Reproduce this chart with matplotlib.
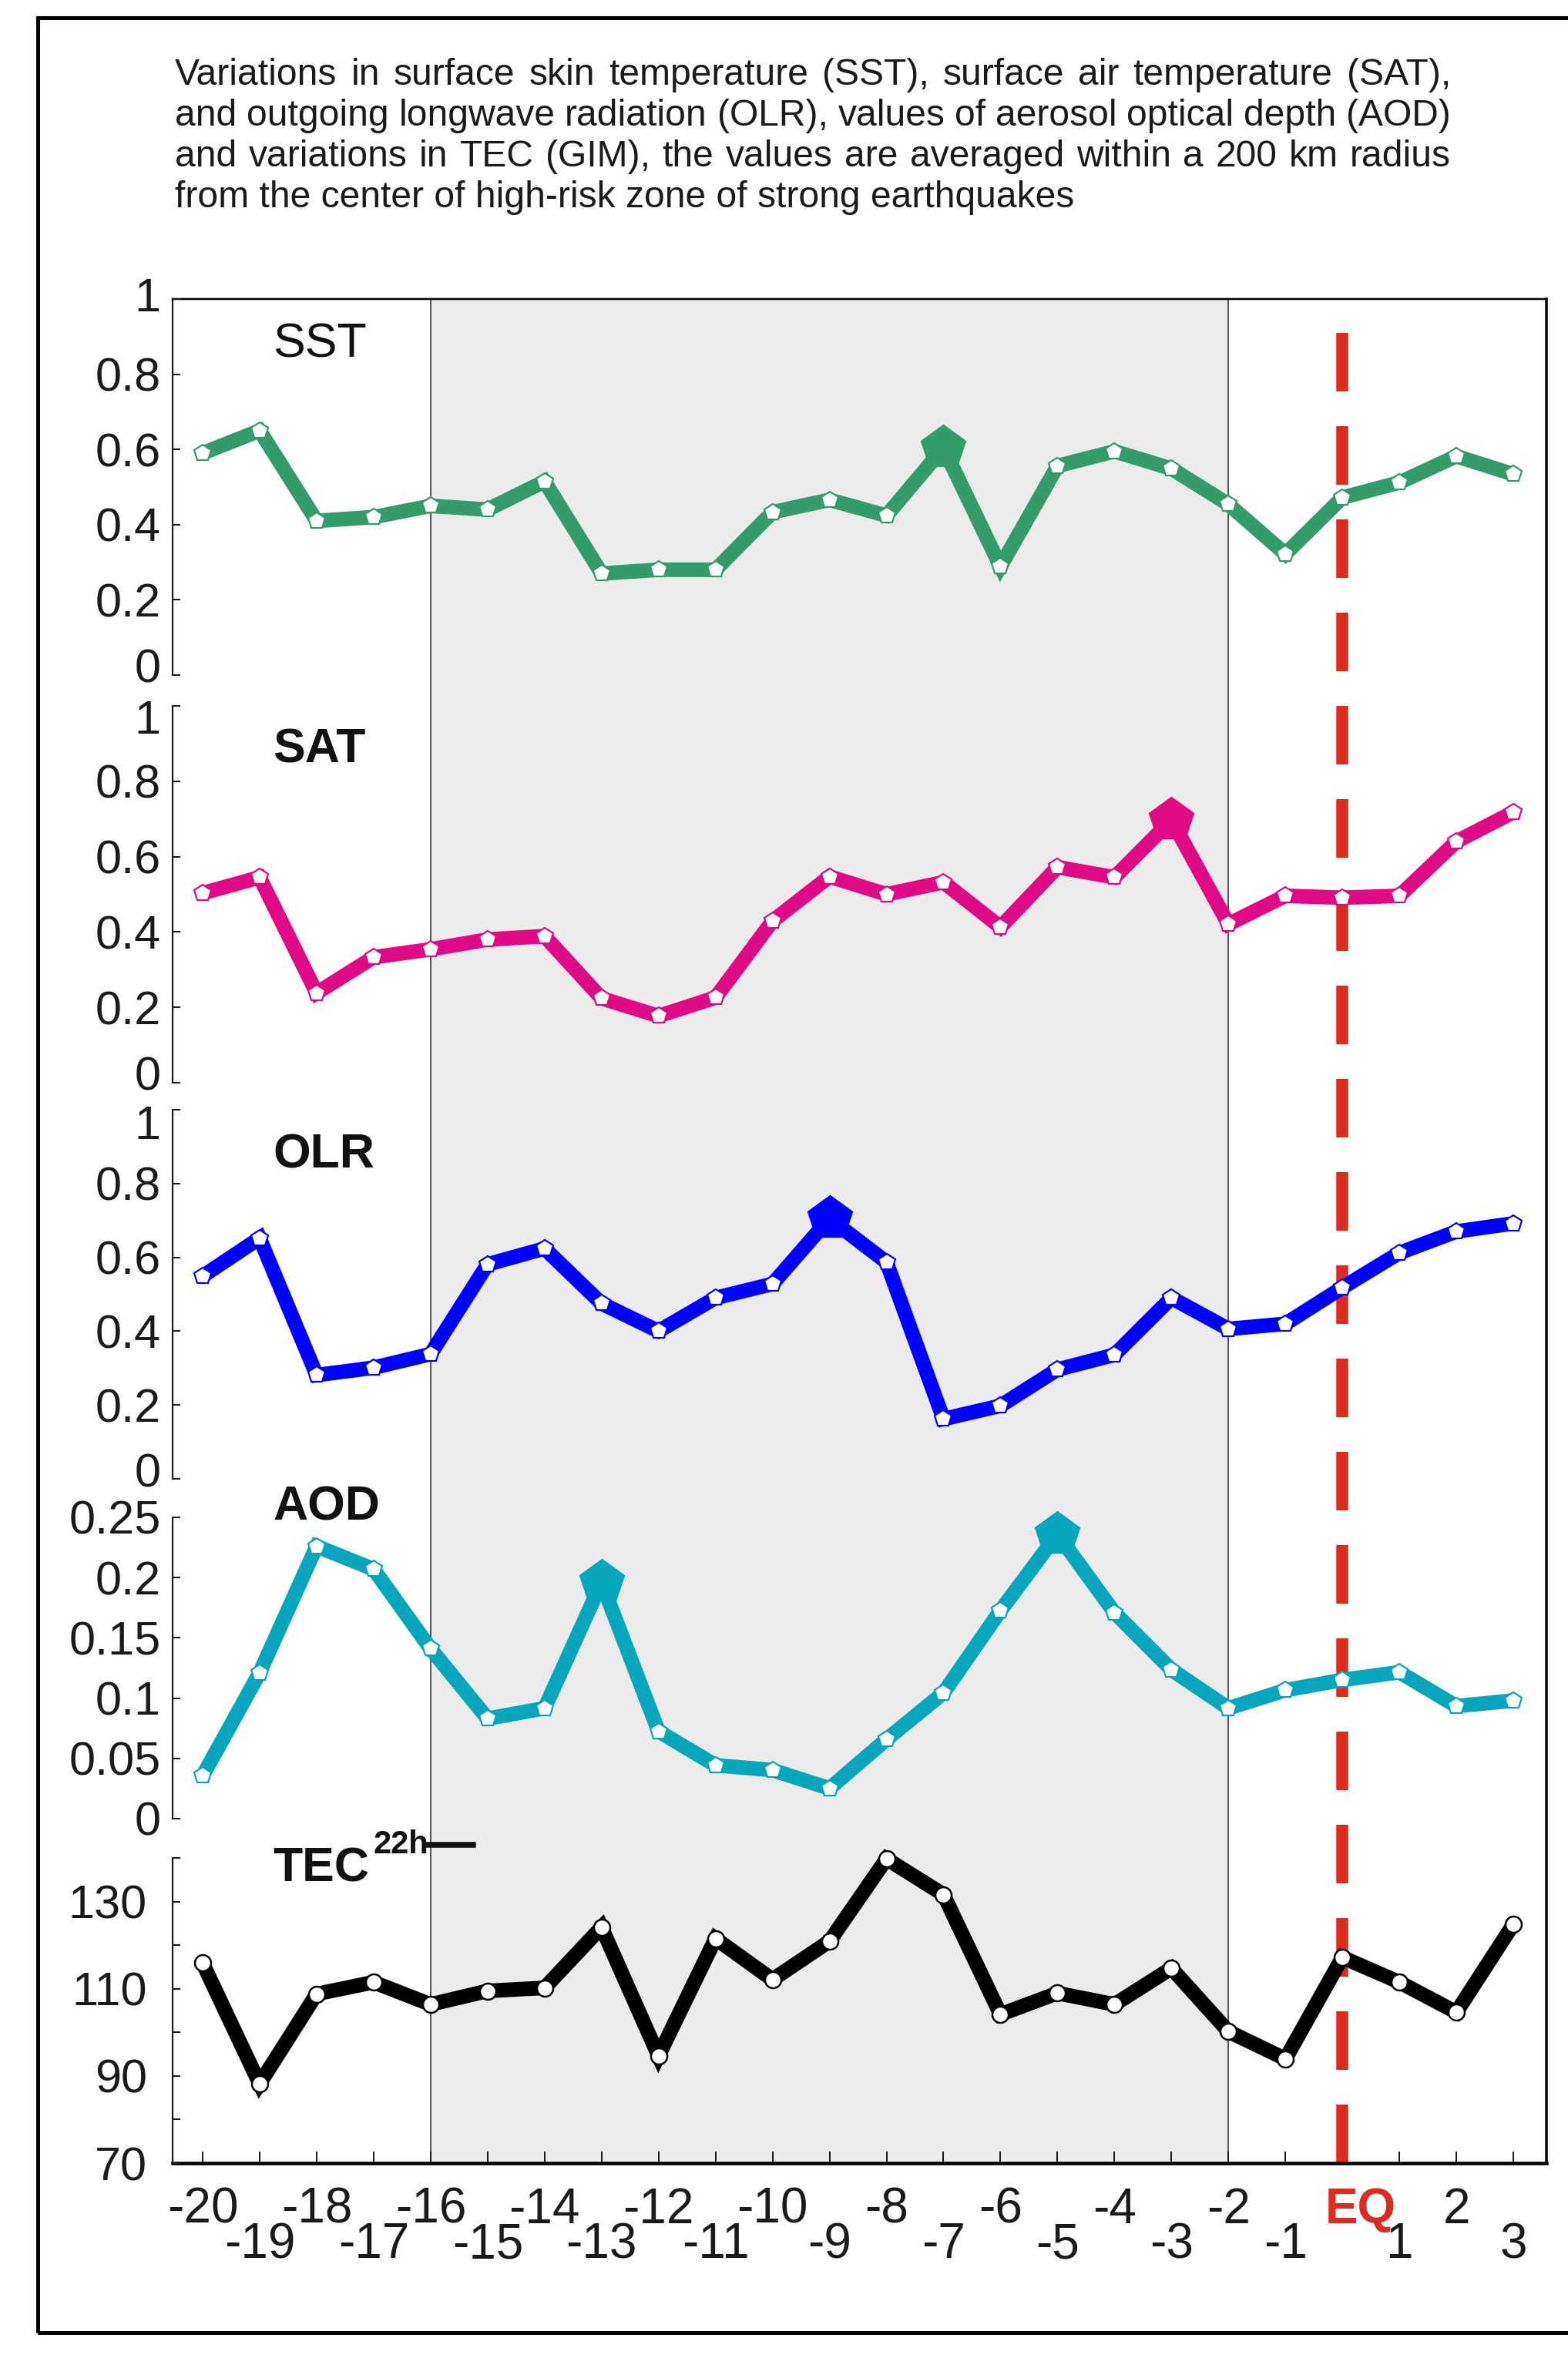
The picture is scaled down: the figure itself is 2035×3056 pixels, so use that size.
import matplotlib
matplotlib.use('Agg')
import matplotlib.pyplot as plt
from matplotlib.patches import Rectangle
from matplotlib.lines import Line2D
from matplotlib.transforms import ScaledTranslation

plt.rcParams['font.family'] = ['Liberation Sans', 'DejaVu Sans']

# ---------------- data ----------------
days = list(range(-20, 4))
x_labels = ['-20', '-19', '-18', '-17', '-16', '-15', '-14', '-13', '-12', '-11',
            '-10', '-9', '-8', '-7', '-6', '-5', '-4', '-3', '-2', '-1',
            '', '1', '2', '3']
eq_label = 'EQ'

sst = [0.59, 0.65, 0.41, 0.42, 0.45, 0.44, 0.515, 0.27, 0.28, 0.28, 0.433, 0.466,
       0.424, 0.604, 0.289, 0.556, 0.595, 0.549, 0.454, 0.322, 0.472, 0.512, 0.582, 0.534]
sat = [0.503, 0.545, 0.238, 0.333, 0.354, 0.380, 0.389, 0.224, 0.177, 0.226, 0.429, 0.547,
       0.500, 0.532, 0.413, 0.572, 0.545, 0.697, 0.421, 0.496, 0.491, 0.496, 0.640, 0.718]
olr = [0.549, 0.652, 0.281, 0.301, 0.338, 0.581, 0.624, 0.475, 0.400, 0.490, 0.528, 0.705,
       0.587, 0.162, 0.198, 0.296, 0.336, 0.490, 0.406, 0.420, 0.518, 0.612, 0.670, 0.692]
aod = [0.0356, 0.121, 0.226, 0.207, 0.141, 0.083, 0.0916, 0.196, 0.0725, 0.0443, 0.0403, 0.0251,
       0.0657, 0.1044, 0.1726, 0.236, 0.171, 0.1236, 0.0916, 0.1066, 0.1151, 0.1215, 0.0934, 0.098]
tec = [115.9, 88.2, 108.8, 111.5, 106.4, 109.5, 110.2, 124.1, 94.6, 121.5, 112.1, 120.9,
       139.8, 131.6, 104.1, 109.0, 106.4, 114.7, 100.2, 93.9, 117.2, 111.5, 104.6, 124.8]

sst_peaks = [-7]
sat_peaks = [-3]
olr_peaks = [-9]
aod_peaks = [-13, -5]
tec_peaks = []

unit_ticks = [0, 0.2, 0.4, 0.6, 0.8, 1.0]
unit_labels = ['0', '0.2', '0.4', '0.6', '0.8', '1']
aod_ticks = [0, 0.05, 0.1, 0.15, 0.2, 0.25]
aod_labels = ['0', '0.05', '0.1', '0.15', '0.2', '0.25']
tec_ticks = [70, 90, 110, 130]
tec_labels = ['70', '90', '110', '130']
tec_minor = [80, 100, 120, 140]

shade_from, shade_to = -16, -2
eq_day = 0

title_lines = [
    "Variations in surface skin temperature (SST), surface air temperature (SAT),",
    "and outgoing longwave radiation (OLR), values of aerosol optical depth (AOD)",
    "and variations in TEC (GIM), the values are averaged within a 200 km radius",
    "from the center of high-risk zone of strong earthquakes",
]

# ---------------- layout helpers ----------------
W, H, DPI = 2035, 3056, 100
PX = 72.0 / DPI
fig = plt.figure(figsize=(W / DPI, H / DPI), dpi=DPI)
fig.patch.set_facecolor('white')


def fx(p):
    return p / W


def fy(p):
    return 1 - p / H


X_LEFT, X_RIGHT = 224, 2007
XLIM = (-20.527, 3.58)


def make_axes(top, bottom, z):
    ax = fig.add_axes([fx(X_LEFT), fy(bottom), fx(X_RIGHT) - fx(X_LEFT), (bottom - top) / H])
    ax.set_zorder(z)
    ax.set_xlim(XLIM)
    return ax


# ---------------- background axes ----------------
bg = make_axes(388, 2807, 0)
bg.set_ylim(0, 1)
bg.axvspan(shade_from, shade_to, color='#ececec', lw=0, zorder=0)
for xv in (shade_from, shade_to):
    bg.axvline(xv, color='#222222', lw=1.5 * PX, zorder=1)
lw_eq = 15.5
bg.plot([eq_day, eq_day], [0, 1], color='#dc2b1f', lw=lw_eq * PX,
        dashes=(76 / lw_eq, 45 / lw_eq), dash_capstyle='butt', zorder=2)
bg.spines['left'].set_visible(False)
bg.spines['top'].set_linewidth(2.5 * PX)
bg.spines['right'].set_linewidth(3.5 * PX)
bg.spines['bottom'].set_linewidth(4.5 * PX)
bg.set_yticks([])
bg.set_xticks(days)
bg.set_xticklabels(x_labels)
bg.tick_params(axis='x', direction='in', length=15 * PX, width=2 * PX,
               labelsize=46, colors='#1a1a1a')
for d, t in zip(days, bg.xaxis.get_major_ticks()):
    t.set_pad(22 if d % 2 == 0 else 55)
bg.annotate(eq_label, xy=(eq_day, 0), xycoords=('data', 'axes fraction'),
            xytext=(17, -22), textcoords='offset points', ha='center', va='top',
            fontsize=46, fontweight='bold', color='#dc2b1f')

# ---------------- panels ----------------
panels = [
    dict(top=388, bottom=876, ylim=(0, 1), ticks=unit_ticks, labels=unit_labels,
         data=sst, color='#349b6a', peaks=sst_peaks, name='SST', bold=False,
         base=464, pad=11, marker='p', shift={'0': 13, '1': 6}),
    dict(top=916, bottom=1405, ylim=(0, 1), ticks=unit_ticks, labels=unit_labels,
         data=sat, color='#e10a85', peaks=sat_peaks, name='SAT', bold=True,
         base=989, pad=11, marker='p', shift={'0': 13, '1': -14}),
    dict(top=1440, bottom=1919, ylim=(0, 1), ticks=unit_ticks, labels=unit_labels,
         data=olr, color='#0000ff', peaks=olr_peaks, name='OLR', bold=True,
         base=1515, pad=11, marker='p', shift={'0': 12, '1': -16}),
    dict(top=1969, bottom=2360, ylim=(0, 0.25), ticks=aod_ticks, labels=aod_labels,
         data=aod, color='#06a6bd', peaks=aod_peaks, name='AOD', bold=True,
         base=1973, pad=11, marker='p', shift={}),
    dict(top=2411, bottom=2807, ylim=(70, 140), ticks=tec_ticks, labels=tec_labels,
         data=tec, color='#000000', peaks=tec_peaks, name='TEC', bold=True,
         base=2442, pad=24, marker='o', shift={}),
]

panel_axes = []
for i, p in enumerate(panels):
    ax = make_axes(p['top'], p['bottom'], 5 + i)
    ax.patch.set_visible(False)
    ax.set_ylim(*p['ylim'])
    for s in ('top', 'right', 'bottom'):
        ax.spines[s].set_visible(False)
    ax.spines['left'].set_linewidth(2.2 * PX)
    ax.spines['left'].set_color('#1a1a1a')
    ax.tick_params(axis='x', bottom=False, labelbottom=False)
    ax.set_yticks(p['ticks'])
    ax.set_yticklabels(p['labels'])
    ax.tick_params(axis='y', which='both', direction='in', length=10 * PX, width=2 * PX,
                   labelsize=44, pad=p['pad'], colors='#1a1a1a')
    if p['name'] == 'TEC':
        ax.set_yticks(tec_minor, minor=True)
    c = p['color']
    ax.plot(days, p['data'], color=c, lw=19 * PX, solid_joinstyle='miter',
            solid_capstyle='butt', zorder=2, clip_on=False)
    if p['marker'] == 'p':
        ax.plot(days, p['data'], ls='none', marker='p', ms=23 * PX,
                mfc='white', mec=c, mew=2.2 * PX, zorder=3, clip_on=False)
    else:
        ax.plot(days, p['data'], ls='none', marker='o', ms=21 * PX,
                mfc='white', mec=c, mew=2.5 * PX, zorder=3, clip_on=False)
    if p['peaks']:
        pv = [p['data'][days.index(d)] for d in p['peaks']]
        ax.plot(p['peaks'], pv, ls='none', marker='p', ms=60 * PX, mfc=c, mec=c,
                zorder=4, clip_on=False)
    fig.text(fx(354), fy(p['base']), p['name'], fontsize=45,
             fontweight='bold' if p['bold'] else 'normal', va='baseline', ha='left',
             color='#111111')
    panel_axes.append((ax, p))

# individual vertical nudges of some y tick labels (as in the original layout)
for ax, p in panel_axes:
    for lbl_text, tick in zip(p['labels'], ax.yaxis.get_major_ticks()):
        dy = p['shift'].get(lbl_text, 0)
        if dy:
            lab = tick.label1
            lab.set_transform(lab.get_transform() +
                              ScaledTranslation(0, dy / DPI, fig.dpi_scale_trans))

# TEC superscript and line sample
fig.text(fx(484), fy(2405), '22h', fontsize=30, fontweight='bold', va='baseline',
         ha='left', color='#111111')
fig.add_artist(Line2D([fx(554), fx(614)], [fy(2394), fy(2394)], transform=fig.transFigure,
                      color='#111111', lw=7.5 * PX))

# ---------------- title (justified block) ----------------
baselines = [110, 163, 216, 269]
T_LEFT, T_RIGHT = 227, 1883
r = fig.canvas.get_renderer()
probe = fig.text(0, 0, title_lines[-1], fontsize=30)
w_last = probe.get_window_extent(renderer=r).width
probe.remove()
fs = 30 * 1164 / w_last

for k, (line, b) in enumerate(zip(title_lines, baselines)):
    if k == len(title_lines) - 1:
        fig.text(fx(T_LEFT), fy(b), line, fontsize=fs, va='baseline', ha='left',
                 color='#1a1a1a')
        continue
    words = line.split(' ')
    objs = [fig.text(fx(T_LEFT), fy(b), wd, fontsize=fs, va='baseline', ha='left',
                     color='#1a1a1a') for wd in words]
    widths = [o.get_window_extent(renderer=r).width for o in objs]
    gap = (T_RIGHT - T_LEFT - sum(widths)) / (len(words) - 1)
    xpos = T_LEFT
    for o, wdt in zip(objs, widths):
        o.set_x(fx(xpos))
        xpos += wdt + gap

# ---------------- outer frame ----------------
fig.add_artist(Rectangle((fx(49), fy(3027)), 1.2, (3027 - 23) / H, transform=fig.transFigure,
                         fill=False, edgecolor='black', lw=5 * PX, clip_on=False))

fig.savefig('out.png', dpi=DPI)
